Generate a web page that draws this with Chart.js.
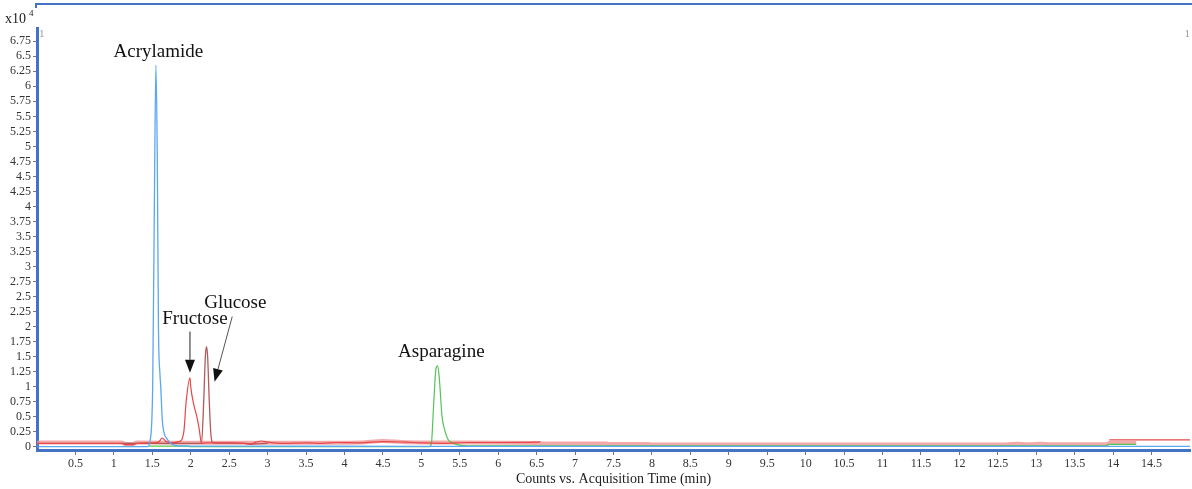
<!DOCTYPE html>
<html lang="en">
<head>
  <meta charset="UTF-8">
  <title>Counts vs. Acquisition Time</title>
  <script src="https://cdn.jsdelivr.net/npm/chart.js"></script>
  <style>
    html, body { margin: 0; padding: 0; background: #fff; }
    #wrap { width: 1192px; height: 489px; position: relative; }
  </style>
</head>
<body>
  <div id="wrap"><canvas id="grafico"></canvas></div>
  <script>
    // eixos (tempo em min, contagens em x10^4)
    const xTicks = [0.5, 1, 1.5, 2, 2.5, 3, 3.5, 4, 4.5, 5, 5.5, 6, 6.5, 7, 7.5, 8, 8.5, 9, 9.5, 10,
                    10.5, 11, 11.5, 12, 12.5, 13, 13.5, 14, 14.5];
    const yTicks = [0, 0.25, 0.5, 0.75, 1, 1.25, 1.5, 1.75, 2, 2.25, 2.5, 2.75, 3, 3.25, 3.5, 3.75,
                    4, 4.25, 4.5, 4.75, 5, 5.25, 5.5, 5.75, 6, 6.25, 6.5, 6.75];

    // Acrylamide (azul)
    const acrylX = [0, 0.8, 1.44, 1.47, 1.505, 1.53, 1.547, 1.565, 1.58, 1.6, 1.61, 1.63, 1.65, 1.7, 1.75, 1.85, 2.6, 5, 8, 11, 14.3, 15];
    const acrylY = [0.005, 0.005, 0.005, 0.1, 1.0, 4.5, 6.35, 4.8, 2.0, 1.2, 1.0, 0.45, 0.25, 0.12, 0.05, 0.02, 0.015, 0.01, 0.01, 0.01, 0.01, 0.01];

    // Fructose (vermelho)
    const fructX = [0, 0.6, 1.1, 1.15, 1.25, 1.3, 1.5, 1.58, 1.63, 1.68, 1.75, 1.85, 1.91, 1.94, 1.99, 2.0, 2.04, 2.08, 2.11, 2.14, 2.2,
                    2.5, 2.7, 2.78, 2.85, 2.92, 3.0, 3.2, 3.5, 3.7, 3.9, 4.2, 4.5, 4.8, 5.0, 5.3, 5.6, 6.0, 6.5, 6.55,
                    6.6, 13.93, 13.95, 15];
    const fructY = [0.06, 0.06, 0.06, 0.04, 0.04, 0.06, 0.07, 0.08, 0.15, 0.09, 0.07, 0.09, 0.25, 0.75, 1.15, 1.0, 0.7, 0.5, 0.3, 0.06, 0.07,
                    0.07, 0.06, 0.045, 0.08, 0.1, 0.08, 0.06, 0.07, 0.06, 0.075, 0.07, 0.09, 0.08, 0.07, 0.06, 0.075, 0.075, 0.08, 0.09,
                    null, null, 0.12, 0.12];

    // Glucose (marrom)
    const glucX = [1.1, 1.3, 1.8, 2.1, 2.14, 2.17, 2.19, 2.205, 2.22, 2.24, 2.26, 2.28, 2.3, 2.7, 2.8, 3.0];
    const glucY = [0.06, 0.06, 0.06, 0.06, 0.06, 0.8, 1.5, 1.67, 1.5, 0.8, 0.25, 0.08, 0.07, 0.06, 0.05, 0.06];

    // Asparagine (verde)
    const aspX = [1.45, 1.95, 2.0, 5.1, 5.13, 5.16, 5.19, 5.21, 5.23, 5.27, 5.3, 5.35, 5.42, 5.5, 5.6, 9, 13.9, 13.95, 14.3];
    const aspY = [0.015, 0.015, 0.005, 0.005, 0.05, 0.7, 1.3, 1.35, 1.2, 0.5, 0.3, 0.12, 0.06, 0.03, 0.02, 0.02, 0.02, 0.045, 0.045];

    // linha de base larga (rosa)
    const bandX = [0, 1.1, 1.15, 1.25, 1.3, 2.5, 3.5, 4.2, 4.5, 4.8, 5.5, 6.5, 6.55, 7.4, 7.45, 7.95, 8.0, 12.6, 12.75, 12.9, 13.05, 13.2, 13.9, 13.95, 14.3];
    const bandY = [0.075, 0.075, 0.05, 0.05, 0.075, 0.07, 0.07, 0.075, 0.1, 0.08, 0.075, 0.067, 0.058, 0.058, 0.05, 0.05, 0.04, 0.042, 0.055, 0.045, 0.055, 0.045, 0.045, 0.065, 0.065];

    // rótulos dos picos e setas
    const picoNomes = ['Acrylamide', 'Fructose', 'Glucose', 'Asparagine'];
    const picoX = [1.58, 2.055, 2.58, 5.26];
    const picoY = [6.57, 2.13, 2.40, 1.58];
    const setas = [
      { de: [1.99, 1.92], para: [1.99, 1.235], cor: '#222' },
      { de: [2.54, 2.17], para: [2.31, 1.085], cor: '#555' }
    ];

    const azulEixo = '#4472c4';
    const fonteSerif = '"Liberation Serif", "DejaVu Serif", serif';

    const pontos = (xs, ys) => xs.map((x, i) => ({ x, y: ys[i] }));

    const molduraPlugin = {
      id: 'moldura',
      beforeDraw(chart) {
        const c = chart.ctx;
        c.save();
        c.fillStyle = '#fff';
        c.fillRect(0, 0, chart.width, chart.height);
        c.restore();
      },
      afterDraw(chart) {
        const c = chart.ctx;
        const xs = chart.scales.x, ys = chart.scales.y;
        const area = chart.chartArea;
        c.save();
        // borda superior do painel
        c.strokeStyle = azulEixo;
        c.lineWidth = 2;
        c.beginPath();
        c.moveTo(area.left - 1, 8);
        c.lineTo(area.left - 1, 4);
        c.lineTo(chart.width, 4);
        c.stroke();

        // x10^4
        c.fillStyle = '#222';
        c.textBaseline = 'alphabetic';
        c.textAlign = 'left';
        c.font = '14px ' + fonteSerif;
        c.fillText('x10', 5, 23);
        c.font = '9px ' + fonteSerif;
        c.fillText('4', 29, 16);

        // marcadores "1"
        c.fillStyle = '#999';
        c.font = '11px ' + fonteSerif;
        c.fillText('1', area.left + 2, 37);
        c.textAlign = 'right';
        c.fillText('1', chart.width - 2, 37);

        // nomes dos picos
        c.fillStyle = '#111';
        c.textAlign = 'center';
        c.textBaseline = 'middle';
        c.font = '19px ' + fonteSerif;
        picoNomes.forEach((nome, i) => {
          c.fillText(nome, xs.getPixelForValue(picoX[i]), ys.getPixelForValue(picoY[i]));
        });

        // setas
        setas.forEach(s => {
          const x1 = xs.getPixelForValue(s.de[0]), y1 = ys.getPixelForValue(s.de[1]);
          const x2 = xs.getPixelForValue(s.para[0]), y2 = ys.getPixelForValue(s.para[1]);
          const ang = Math.atan2(y2 - y1, x2 - x1);
          const comp = 13, larg = 5;
          const bx = x2 - comp * Math.cos(ang), by = y2 - comp * Math.sin(ang);
          c.strokeStyle = s.cor;
          c.lineWidth = 1;
          c.beginPath();
          c.moveTo(x1, y1);
          c.lineTo(bx, by);
          c.stroke();
          c.fillStyle = '#111';
          c.beginPath();
          c.moveTo(x2, y2);
          c.lineTo(bx + larg * Math.sin(ang), by - larg * Math.cos(ang));
          c.lineTo(bx - larg * Math.sin(ang), by + larg * Math.cos(ang));
          c.closePath();
          c.fill();
        });
        c.restore();
      }
    };

    new Chart(document.getElementById('grafico'), {
      type: 'line',
      data: {
        datasets: [
          { label: 'Acrylamide', data: pontos(acrylX, acrylY), borderColor: '#5aa8f2', borderWidth: 1.3 },
          { label: 'Fructose', data: pontos(fructX, fructY), borderColor: '#e8474a', borderWidth: 1.2 },
          { label: 'Glucose', data: pontos(glucX, glucY), borderColor: '#b35a5a', borderWidth: 1.3 },
          { label: 'Asparagine', data: pontos(aspX, aspY), borderColor: '#55c455', borderWidth: 1.2 },
          { label: 'base', data: pontos(bandX, bandY), borderColor: 'rgba(238,140,140,0.75)', borderWidth: 4 }
        ]
      },
      options: {
        responsive: true,
        maintainAspectRatio: false,
        animation: false,
        spanGaps: false,
        layout: { padding: { top: 28, right: 2, left: 0, bottom: 0 } },
        elements: {
          point: { radius: 0 },
          line: { cubicInterpolationMode: 'monotone', fill: false }
        },
        plugins: {
          legend: { display: false },
          tooltip: { enabled: false }
        },
        scales: {
          x: {
            type: 'linear',
            min: 0,
            max: 15,
            afterBuildTicks: scale => { scale.ticks = xTicks.map(v => ({ value: v })); },
            afterFit: scale => { scale.height = 39; },
            grid: { drawOnChartArea: false, drawTicks: true, tickLength: 5, color: '#777' },
            border: { display: true, color: azulEixo, width: 3 },
            ticks: {
              autoSkip: false,
              maxRotation: 0,
              padding: 2,
              color: '#333',
              font: { family: fonteSerif, size: 12 },
              callback: v => String(v)
            },
            title: {
              display: true,
              text: 'Counts vs. Acquisition Time (min)',
              color: '#222',
              font: { family: fonteSerif, size: 14 },
              padding: { top: 0, bottom: 1 }
            }
          },
          y: {
            type: 'linear',
            min: -0.05,
            max: 6.97,
            afterBuildTicks: scale => { scale.ticks = yTicks.map(v => ({ value: v })); },
            afterFit: scale => { scale.width = 37; },
            grid: { drawOnChartArea: false, drawTicks: true, tickLength: 4, color: '#777' },
            border: { display: true, color: azulEixo, width: 3 },
            ticks: {
              autoSkip: false,
              padding: 2,
              color: '#333',
              font: { family: fonteSerif, size: 12 },
              callback: v => String(v)
            }
          }
        }
      },
      plugins: [molduraPlugin]
    });
  </script>
</body>
</html>
